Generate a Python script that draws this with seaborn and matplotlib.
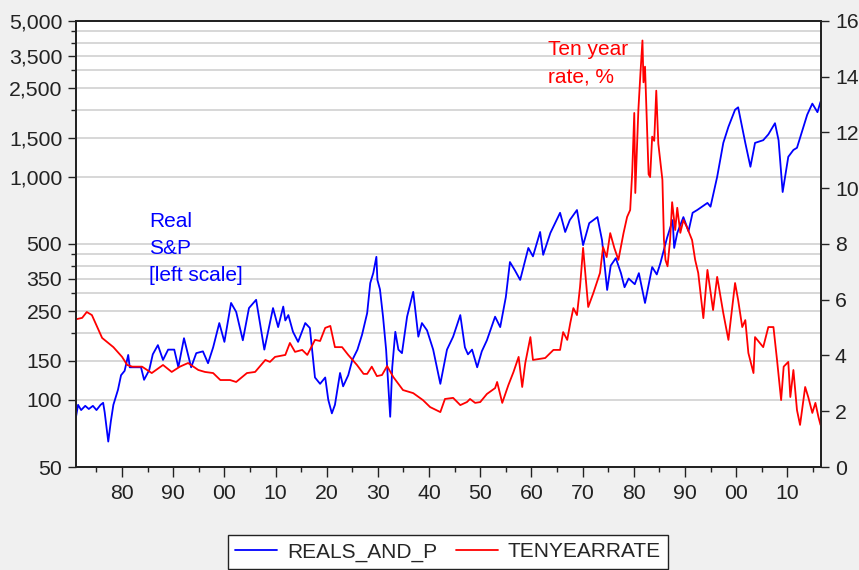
import matplotlib
matplotlib.use("Agg")
import matplotlib.pyplot as plt
import matplotlib.ticker as mticker
import pandas as pd
import seaborn as sns

# values (year, level)
sp_years = [1871.0, 1871.4, 1872.0, 1872.8, 1873.5, 1874.3, 1875.0, 1875.8, 1876.3, 1876.6,
            1877.3, 1877.8, 1878.3, 1879.2, 1879.8, 1880.5, 1881.2, 1881.5, 1882.4, 1883.7,
            1884.3, 1885.3, 1886.0, 1887.0, 1888.0, 1889.0, 1890.2, 1891.0, 1892.1, 1893.5,
            1894.5, 1895.8, 1896.8, 1897.8, 1899.0, 1900.0, 1901.3, 1902.3, 1903.6, 1904.8,
            1906.2, 1907.8, 1909.5, 1910.5, 1911.5, 1911.9, 1912.5, 1913.4, 1914.4, 1915.8,
            1916.7, 1917.7, 1918.7, 1919.7, 1920.3, 1921.0, 1921.6, 1922.6, 1923.2, 1924.2,
            1925.0, 1926.0, 1926.9, 1927.9, 1928.5, 1929.1, 1929.7, 1929.9, 1930.4, 1931.0,
            1931.6, 1932.4, 1932.8, 1933.4, 1934.0, 1934.7, 1935.7, 1936.9, 1937.9, 1938.6,
            1939.6, 1940.8, 1942.2, 1943.5, 1944.7, 1946.1, 1947.0, 1947.6, 1948.4, 1949.4,
            1950.3, 1951.3, 1952.9, 1953.9, 1955.0, 1955.8, 1956.8, 1957.8, 1959.4, 1960.3,
            1961.7, 1962.3, 1963.7, 1965.6, 1966.6, 1967.5, 1968.9, 1970.1, 1971.3, 1972.9,
            1973.8, 1974.8, 1975.5, 1976.5, 1977.5, 1978.2, 1979.0, 1980.2, 1981.0, 1982.2,
            1983.6, 1984.5, 1985.2, 1986.5, 1987.6, 1987.9, 1988.5, 1989.7, 1990.7, 1991.5,
            1992.4, 1994.4, 1995.0, 1996.3, 1997.5, 1998.5, 1999.8, 2000.4, 2001.4, 2001.8,
            2002.8, 2003.7, 2005.3, 2006.3, 2007.6, 2008.3, 2009.1, 2010.2, 2011.2, 2011.9,
            2013.9, 2014.9, 2015.9, 2016.5]
sp_values = [84, 95, 90, 94, 91, 94, 90, 95, 97, 88,
             65, 80, 95, 111, 129, 135, 159, 140, 140, 140,
             123, 136, 160, 176, 151, 168, 168, 140, 189, 140,
             162, 165, 146, 172, 221, 182, 272, 248, 185, 258,
             281, 168, 258, 212, 262, 227, 240, 202, 182, 221,
             210, 126, 118, 126, 100, 87, 95, 132, 115, 129,
             151, 168, 196, 245, 334, 371, 438, 345, 313, 236,
             168, 84, 140, 202, 168, 162, 236, 305, 192, 221,
             205, 168, 118, 168, 192, 240, 172, 160, 168, 140,
             165, 185, 236, 212, 289, 415, 380, 345, 480, 440,
             566, 447, 560, 690, 566, 640, 710, 494, 620, 660,
             520, 311, 400, 432, 370, 320, 350, 330, 370, 272,
             394, 365, 410, 532, 640, 480, 560, 660, 570, 690,
             710, 764, 735, 1000, 1420, 1676, 2000, 2050, 1575, 1420,
             1110, 1420, 1460, 1550, 1740, 1460, 855, 1230, 1320, 1350,
             1900, 2130, 1950, 2170]

rate_years = [1871.0, 1872.2, 1873.1, 1874.1, 1876.1, 1878.3, 1880.0, 1881.0, 1882.0, 1883.9,
              1885.8, 1888.0, 1889.7, 1891.3, 1892.9, 1894.9, 1896.2, 1897.8, 1899.2, 1901.1,
              1902.3, 1904.4, 1906.0, 1908.0, 1908.9, 1909.9, 1911.9, 1912.8, 1913.8, 1915.2,
              1916.2, 1917.7, 1918.7, 1919.7, 1920.7, 1921.6, 1923.0, 1924.2, 1925.9, 1927.2,
              1927.9, 1928.8, 1929.8, 1930.8, 1931.8, 1933.0, 1934.9, 1936.9, 1938.8, 1940.2,
              1942.2, 1943.1, 1944.7, 1946.1, 1947.4, 1948.0, 1949.0, 1950.0, 1951.3, 1952.9,
              1953.3, 1954.3, 1955.5, 1956.5, 1957.5, 1958.2, 1958.8, 1959.8, 1960.3, 1961.3,
              1962.7, 1964.3, 1965.6, 1966.2, 1967.0, 1967.6, 1968.2, 1968.9, 1969.5, 1970.1,
              1971.1, 1972.1, 1973.4, 1974.0, 1974.7, 1975.4, 1976.2, 1977.0, 1978.0, 1978.7,
              1979.3, 1979.7, 1980.1, 1980.3, 1980.9, 1981.3, 1981.7, 1981.9, 1982.2, 1982.6,
              1982.9, 1983.2, 1983.6, 1984.0, 1984.4, 1984.8, 1985.6, 1985.9, 1986.2, 1986.6,
              1987.1, 1987.5, 1988.1, 1988.5, 1989.1, 1989.7, 1990.4, 1991.4, 1992.0, 1992.6,
              1993.6, 1994.4, 1995.5, 1996.3, 1997.5, 1998.5, 1999.8, 2000.4, 2001.2, 2001.8,
              2002.4, 2003.4, 2003.7, 2005.3, 2006.3, 2007.3, 2008.0, 2008.8, 2009.3, 2010.2,
              2010.6, 2011.2, 2011.9, 2012.5, 2013.5, 2014.1, 2014.9, 2015.5, 2016.1, 2016.5]
rate_values = [5.30, 5.35, 5.56, 5.45, 4.63, 4.30, 3.95, 3.66, 3.60, 3.60,
               3.37, 3.66, 3.41, 3.60, 3.73, 3.48, 3.41, 3.37, 3.12, 3.12,
               3.05, 3.37, 3.41, 3.84, 3.77, 3.95, 4.02, 4.45, 4.13, 4.20,
               4.02, 4.56, 4.52, 4.99, 5.06, 4.30, 4.30, 4.02, 3.66, 3.34,
               3.34, 3.60, 3.26, 3.30, 3.62, 3.23, 2.76, 2.65, 2.40, 2.15,
               1.97, 2.44, 2.48, 2.22, 2.33, 2.44, 2.30, 2.33, 2.62, 2.83,
               3.05, 2.30, 2.94, 3.41, 3.95, 2.87, 3.73, 4.66, 3.84, 3.87,
               3.91, 4.20, 4.20, 4.84, 4.56, 5.17, 5.70, 5.45, 6.46, 7.86,
               5.74, 6.24, 6.96, 7.89, 7.53, 8.39, 7.86, 7.43, 8.39, 8.97,
               9.22, 10.58, 12.70, 9.83, 12.80, 14.10, 15.30, 13.80, 14.36, 12.10,
               10.50, 10.40, 11.85, 11.70, 13.50, 11.60, 10.30, 8.14, 7.43, 7.20,
               8.14, 9.50, 8.50, 9.30, 8.40, 8.86, 8.60, 8.14, 7.43, 6.96,
               5.34, 7.07, 5.63, 6.82, 5.52, 4.56, 6.60, 5.99, 5.02, 5.27,
               4.09, 3.37, 4.66, 4.30, 5.02, 5.02, 3.84, 2.40, 3.60, 3.77,
               2.51, 3.48, 2.04, 1.51, 2.87, 2.51, 1.94, 2.30, 1.79, 1.51]

left_ticks = [50, 100, 150, 250, 350, 500, 1000, 1500, 2500, 3500, 5000]
left_minor = [200, 300, 400, 450, 2000, 3000, 4000, 4500]
right_ticks = [0, 2, 4, 6, 8, 10, 12, 14, 16]

sp = pd.DataFrame({"year": sp_years, "value": sp_values})
rate = pd.DataFrame({"year": rate_years, "value": rate_values})

sns.set_style("white")
plt.rcParams['font.family'] = ['Liberation Sans', 'DejaVu Sans']
FS = 15.3

fig = plt.figure(figsize=(8.59, 5.70), dpi=100, facecolor='#f0f0f0')
ax = fig.add_axes([0.0885, 0.1807, 0.8673, 0.7825])
ax.set_facecolor('white')
ax2 = ax.twinx()

sns.lineplot(data=sp, x="year", y="value", ax=ax, color='#0000ff', linewidth=1.3)
sns.lineplot(data=rate, x="year", y="value", ax=ax2, color='#ff0000', linewidth=1.3)

ax.set_yscale('log')
ax.set_ylim(50, 5000)
ax.set_xlim(1871.0, 2016.6)
ax2.set_ylim(0, 16)

ax.yaxis.set_major_locator(mticker.FixedLocator(left_ticks))
ax.yaxis.set_major_formatter(mticker.FuncFormatter(lambda v, p: f"{v:,.0f}"))
ax.yaxis.set_minor_locator(mticker.FixedLocator(left_minor))
ax.yaxis.set_minor_formatter(mticker.NullFormatter())
ax.xaxis.set_major_locator(mticker.MultipleLocator(10))
ax.xaxis.set_minor_locator(mticker.FixedLocator(list(range(1875, 2016, 10))))
ax.xaxis.set_major_formatter(mticker.FuncFormatter(lambda v, p: f"{int(round(v)) % 100:02d}"))
ax2.yaxis.set_major_locator(mticker.FixedLocator(right_ticks))

ax.grid(axis='y', which='both', color='#d4d4d4', linewidth=1.3)
ax.set_axisbelow(True)

for a in (ax, ax2):
    a.set_xlabel('')
    a.set_ylabel('')
    for s in a.spines.values():
        s.set_color('#222222')
        s.set_linewidth(1.3)

ax.tick_params(axis='y', which='major', direction='out', length=6, width=1, pad=4,
               labelsize=FS, left=True, colors='#222222')
ax.tick_params(axis='y', which='minor', direction='out', length=3.5, width=1, left=True,
               colors='#222222')
ax.tick_params(axis='x', which='major', direction='out', length=7, width=1, pad=5,
               labelsize=FS, bottom=True, colors='#222222')
ax.tick_params(axis='x', which='minor', direction='out', length=3.5, width=1, bottom=True,
               colors='#222222')
ax2.tick_params(axis='y', direction='out', length=6, width=1, pad=4, labelsize=FS,
                right=True, colors='#222222')

ax.text(0.098, 0.572, "Real\nS&P\n[left scale]", transform=ax.transAxes, color='#0000ff',
        fontsize=15, va='top', ha='left', linespacing=1.55)
ax.text(0.6336, 0.957, "Ten year\nrate, %", transform=ax.transAxes, color='#ff0000',
        fontsize=15, va='top', ha='left', linespacing=1.55)

handles = [ax.lines[0], ax2.lines[0]]
leg = fig.legend(handles, ["REALS_AND_P", "TENYEARRATE"], loc='upper center',
                 bbox_to_anchor=(0.5215, 0.0614), borderaxespad=0, ncol=2, frameon=True,
                 fancybox=False, edgecolor='#222222', facecolor='white', framealpha=1,
                 fontsize=15, handlelength=2.0, handletextpad=0.5, columnspacing=0.9,
                 borderpad=0.35)
leg.get_frame().set_linewidth(1.0)

fig.savefig("out.png", dpi=100, facecolor=fig.get_facecolor())
